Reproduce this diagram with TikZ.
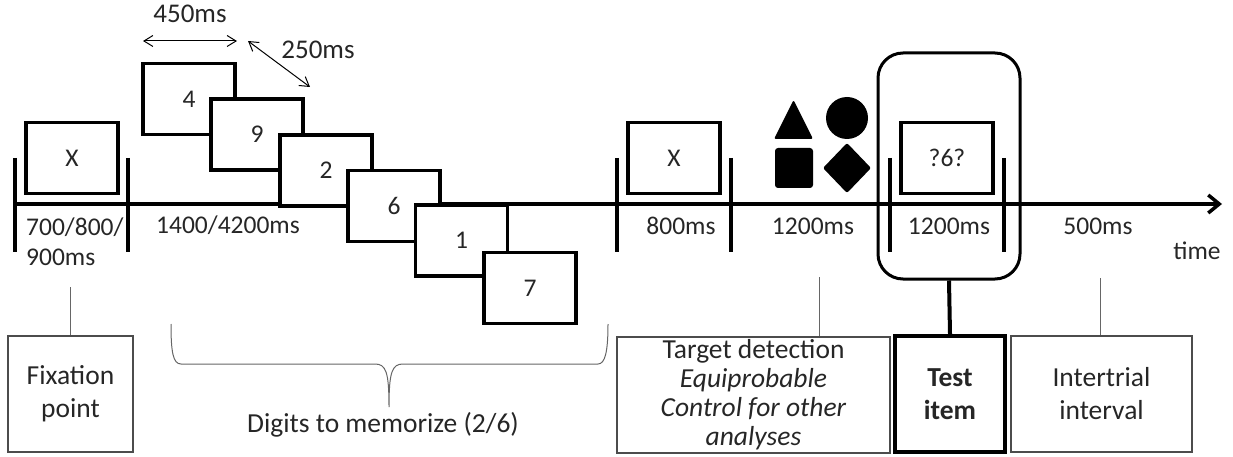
\documentclass[tikz,border=0pt]{standalone}
\usepackage{fontspec}
\setmainfont{Carlito}
\usetikzlibrary{arrows.meta}
\newcommand{\tick}[1]{\draw[line width=3.5pt] (#1,158) -- (#1,252);}

\begin{document}
\begin{tikzpicture}[x=1pt, y=-1pt,
  every node/.style={text=black!85, font=\fontsize{25.5}{30}\selectfont},
  screen/.style={draw=black, line width=3.5pt, fill=white, minimum width=92pt, minimum height=71pt, inner sep=0pt},
  infobox/.style={draw=black!70, line width=1.2pt, minimum height=116pt, align=center, inner sep=0pt, font=\fontsize{27.5}{33}\selectfont},
  stem/.style={draw=black!60, line width=1pt},
  dur/.style={line width=1pt, {Straight Barb[length=9pt,width=11pt]}-{Straight Barb[length=9pt,width=11pt]}}]
\useasboundingbox (0,0) rectangle (1233,457);
\coordinate (t0) at (15,204);
\coordinate (t1) at (1222,204);
\draw[line width=3.5pt, -{Straight Barb[length=11pt,width=18pt]}] (t0) -- (t1);
\foreach \x in {15,128,617,731,890,1004} \tick{\x};
\node[screen] (fix) at (72,158) {X};
\foreach \i/\x/\y/\d in {1/189/99/4, 2/257/134.5/9, 3/326/170.5/2, 4/394/206/6, 5/461.5/240.5/1, 6/530/288/7}
  \node[screen] (d\i) at (\x,\y) {\d};
\node[screen] (fix2) at (674,158) {X};
\node[screen] (probe) at (947,158) {?6?};
\node[draw=black, line width=3pt, rounded corners=25pt, minimum width=142pt, minimum height=226pt] (frame) at (949,166) {};
\fill[rounded corners=2pt] (774,139) -- (793.5,100) -- (813,139) -- cycle;
\fill[rounded corners=3pt] (775,148) rectangle (813,188);
\fill (847,118) circle (21);
\fill[rounded corners=2pt] (823,168) -- (847,143) -- (871,168) -- (847,193) -- cycle;
\coordinate (a0) at (143,41);
\coordinate (a1) at (237,41);
\coordinate (a2) at (248,41);
\coordinate (a3) at (310,87);
\draw[dur] (a0) -- (a1);
\draw[dur] (a2) -- (a3);
\node[font=\fontsize{27}{30}\selectfont] (t450) at (190,14) {450ms};
\node[font=\fontsize{27}{30}\selectfont] (t250) at (318,50) {250ms};
\node[anchor=west, align=left, inner sep=0pt] (l1) at (26,242) {700/800/\\900ms};
\node (l2) at (228,225) {1400/4200ms};
\node (l3) at (681,226) {800ms};
\node (l4) at (813,226) {1200ms};
\node (l5) at (949,226) {1200ms};
\node (l6) at (1098,226) {500ms};
\node (tm) at (1197,251) {time};
\node[infobox, minimum width=125pt] (fixbox) at (70.5,394) {Fixation\\point};
\node[infobox, minimum width=273pt, font=\fontsize{27.5}{29}\selectfont] (tgt) at (753.5,395) {Target detection\\\textit{Equiprobable}\\\textit{Control for other}\\\textit{analyses}};
\node[infobox, draw=black, line width=4pt, minimum width=110pt, font=\fontsize{27.5}{33}\selectfont\bfseries] (test) at (950,394) {Test\\item};
\node[infobox, minimum width=181pt] (iti) at (1101.5,394) {Intertrial\\interval};
\coordinate (s1) at (70,287);
\coordinate (s2) at (819,277);
\coordinate (s3) at (1100,278);
\draw[stem] (s1) -- (s1 |- fixbox.north);
\draw[stem] (s2) -- (s2 |- tgt.north);
\draw[stem] (s3) -- (s3 |- iti.north);
\draw[line width=4pt] (frame.south) -- (test.north);
\draw[stem] (171,324) .. controls (171,352) and (173,364) .. (181,364) -- (375,364) .. controls (386,364) and (389,372) .. (389,407) .. controls (389,372) and (392,364) .. (403,364) -- (598,364) .. controls (605,364) and (608,352) .. (608,324);
\node (dig) at (383,425) {\fontsize{27.5}{30}\selectfont Digits to memorize (2/6)};
\end{tikzpicture}
\end{document}
